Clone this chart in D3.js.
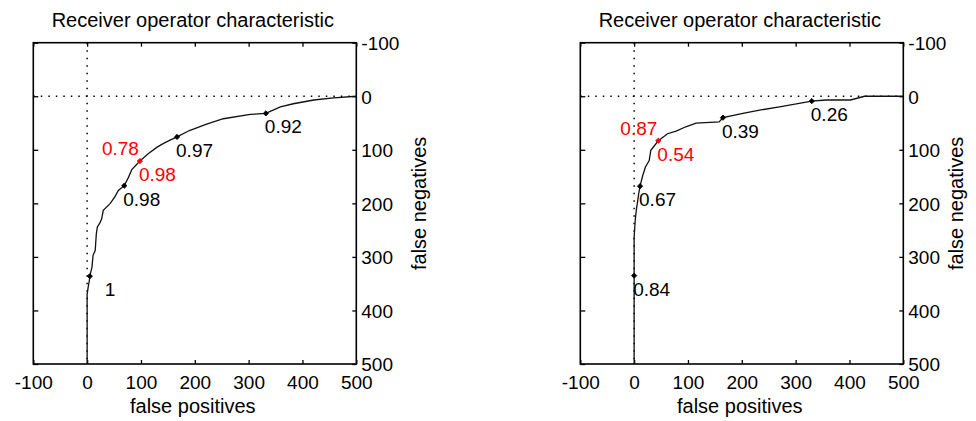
<!DOCTYPE html>
<html>
<head>
<meta charset="utf-8">
<script src="https://cdn.jsdelivr.net/npm/d3@7/dist/d3.min.js"></script>
<style>
  html, body { margin: 0; padding: 0; background: #fff; }
  svg text { font-family: "Liberation Sans", Arial, sans-serif; font-size: 19px; fill: #000; white-space: pre; }
  svg text.title { font-size: 20px; }
</style>
</head>
<body>
<svg id="chart" width="976" height="421"></svg>
<script>
// Axis ticks shared by both panels
const tickValues = [-100, 0, 100, 200, 300, 400, 500];
const tickLabels = ["-100", "0", "100", "200", "300", "400", "500"];

// Panel A: ROC curve (false positives vs false negatives)
const rocA_fp = [0, 0, 2, 4, 5, 9, 11, 15, 17, 19, 24, 27, 30, 43, 52, 58, 69, 77, 83, 98, 114, 130, 142, 154, 167, 190, 222, 253, 303, 332, 359, 383, 421, 458, 500];
const rocA_fn = [500, 370, 356, 345, 336, 319, 297, 288, 258, 244, 236, 229, 213, 200, 187, 176, 167, 151, 137, 121, 107, 95, 88, 82, 76, 64, 52, 42, 34, 32, 20, 14, 7, 3, 0];
const markA_fp = [5, 69, 98, 167, 332];
const markA_fn = [336, 167, 121, 76, 32];
const markA_label = ["   1", "0.98", "0.98", "0.97", "0.92"];
const markA_upper = [null, null, "0.78", null, null];
const markA_red = [false, false, true, false, false];

// Panel B: ROC curve
const rocB_fp = [0, 0, 0, 2, 4, 8.5, 11, 16, 21, 28, 31, 38, 45, 62, 78, 96, 115, 158, 165, 202, 233, 270, 330, 356, 402, 428, 500];
const rocB_fn = [500, 335, 263, 232, 213, 182, 168, 148, 132, 120, 101, 92, 83, 70, 65, 57, 50, 48, 40, 32, 26, 20, 9, 7, 7, 0, 0];
const markB_fp = [0, 11, 45, 165, 330];
const markB_fn = [335, 168, 83, 40, 9];
const markB_label = ["0.84", "0.67", "0.54", "0.39", "0.26"];
const markB_upper = [null, null, "0.87", null, null];
const markB_red = [false, false, true, false, false];

const titleText = "Receiver operator characteristic";
const xTitle = "false positives";
const yTitle = "false negatives";

const svg = d3.select("#chart");

function drawPanel(opts) {
  const { left, right, top, bottom, fp, fn, mfp, mfn, mlab, mup, mred, yTitleX } = opts;
  const x = d3.scaleLinear().domain([-100, 500]).range([left, right]);
  const y = d3.scaleLinear().domain([-100, 500]).range([top, bottom]);
  const g = svg.append("g");

  // dotted reference lines through the origin
  g.append("line")
    .attr("x1", x(-100)).attr("x2", x(500)).attr("y1", y(0)).attr("y2", y(0))
    .attr("stroke", "#000").attr("stroke-width", 1.5).attr("stroke-dasharray", "1.5,6");
  g.append("line")
    .attr("x1", x(0)).attr("x2", x(0)).attr("y1", y(-100)).attr("y2", y(500))
    .attr("stroke", "#000").attr("stroke-width", 1.5).attr("stroke-dasharray", "1.5,6");

  const fmt = d => tickLabels[tickValues.indexOf(d)];

  const ax = (axis, tx, ty) => {
    const a = g.append("g").attr("transform", `translate(${tx},${ty})`).call(axis);
    a.select(".domain").remove();
    a.selectAll(".tick line").attr("stroke", "#000").attr("stroke-width", 1.3);
    a.selectAll("text").attr("fill", "#000").style("font-size", "19px")
      .style("font-family", '"Liberation Sans", Arial, sans-serif');
    return a;
  };
  ax(d3.axisBottom(x).tickValues(tickValues).tickFormat(fmt).tickSize(-4).tickPadding(12), 0, bottom);
  ax(d3.axisTop(x).tickValues(tickValues).tickFormat("").tickSize(-4), 0, top);
  ax(d3.axisLeft(y).tickValues(tickValues).tickFormat("").tickSize(-5), left, 0);
  const ra = ax(d3.axisRight(y).tickValues(tickValues).tickFormat(fmt).tickSize(-4).tickPadding(5), right, 0);
  ra.selectAll("text").attr("dy", "0.36em");

  // ROC curve
  const pts = fp.map((v, i) => [v, fn[i]]);
  g.append("path")
    .attr("d", d3.line().x(d => x(d[0])).y(d => y(d[1]))(pts))
    .attr("fill", "none").attr("stroke", "#111").attr("stroke-width", 1.3);

  // plot box
  g.append("rect")
    .attr("x", left).attr("y", top).attr("width", right - left).attr("height", bottom - top)
    .attr("fill", "none").attr("stroke", "#000").attr("stroke-width", 1.6);

  // threshold markers and labels
  const sym = d3.symbol().type(d3.symbolSquare).size(14);
  mfp.forEach((v, i) => {
    const col = mred[i] ? "#ff0000" : "#000";
    const px = x(v), py = y(mfn[i]);
    g.append("path").attr("d", sym()).attr("transform", `translate(${px},${py}) rotate(45)`)
      .attr("fill", col).attr("stroke", col).attr("stroke-width", 0.8);
    g.append("text").attr("x", px - 1).attr("y", py + 20)
      .style("fill", col).text(mlab[i]);
    if (mup[i]) {
      g.append("text").attr("x", px - 1).attr("y", py - 6).attr("text-anchor", "end")
        .style("fill", col).text(mup[i]);
    }
  });

  // titles
  g.append("text").attr("class", "title").attr("x", (left + right) / 2 - 2).attr("y", 27)
    .attr("text-anchor", "middle").text(titleText);
  g.append("text").attr("class", "title").attr("x", (left + right) / 2 - 2).attr("y", 413)
    .attr("text-anchor", "middle").text(xTitle);
  g.append("text").attr("class", "title")
    .attr("transform", `translate(${yTitleX},${(top + bottom) / 2}) rotate(-90)`)
    .attr("text-anchor", "middle").text(yTitle);
}

drawPanel({ left: 33.3, right: 356.3, top: 42.7, bottom: 364, fp: rocA_fp, fn: rocA_fn,
  mfp: markA_fp, mfn: markA_fn, mlab: markA_label, mup: markA_upper, mred: markA_red, yTitleX: 426 });
drawPanel({ left: 580.3, right: 903.3, top: 42.7, bottom: 364, fp: rocB_fp, fn: rocB_fn,
  mfp: markB_fp, mfn: markB_fn, mlab: markB_label, mup: markB_upper, mred: markB_red, yTitleX: 963 });
</script>
</body>
</html>
